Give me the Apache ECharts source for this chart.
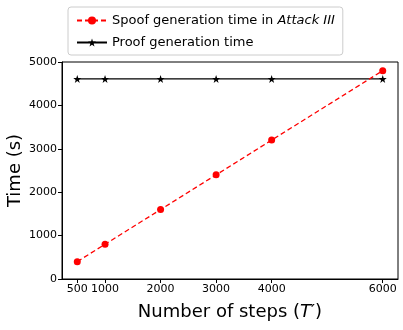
<!DOCTYPE html>
<html>
<head>
<meta charset="utf-8">
<script src="https://cdn.jsdelivr.net/npm/echarts@6/dist/echarts.min.js"></script>
<style>
html,body{margin:0;padding:0;background:#fff;}
#main{width:403px;height:330px;}
</style>
</head>
<body>
<div id="main"></div>
<script>
const steps = [500, 1000, 2000, 3000, 4000, 6000];
const spoofTime = [400, 800, 1600, 2400, 3200, 4800];
const proofTime = [4610, 4610, 4610, 4610, 4610, 4610];
const yTicks = [0, 1000, 2000, 3000, 4000, 5000];

const chart = echarts.init(document.getElementById('main'));
const font = 'DejaVu Sans';

const option = {
    animation: false,
    textStyle: {fontFamily: font},
    grid: {
        left: 62, right: 5, top: 62, bottom: 51,
        outerBoundsMode: 'none',
        containLabel: false,
        show: true, borderColor: '#000', borderWidth: 1
    },
    legend: {
        left: 68, top: 7,
        orient: 'vertical',
        itemGap: 9,
        itemWidth: 30, itemHeight: 10,
        padding: [7, 8, 6, 8],
        borderColor: '#ccc', borderWidth: 1, borderRadius: 3,
        textStyle: {
            fontSize: 13, color: '#000', fontFamily: font,
            rich: {i: {fontStyle: 'italic', fontSize: 13, fontFamily: font, color: '#000'}}
        },
        formatter: name => name === 'spoof'
            ? 'Spoof generation time in {i|Attack III}'
            : 'Proof generation time',
        data: ['spoof', 'proof']
    },
    xAxis: {
        type: 'value',
        min: 225, max: 6275,
        splitLine: {show: false},
        axisLine: {show: true, onZero: false, lineStyle: {color: '#000'}},
        axisTick: {show: true, customValues: steps, length: 4, lineStyle: {color: '#000'}},
        axisLabel: {customValues: steps, fontSize: 11, color: '#000', margin: 5, fontFamily: font,
            formatter: v => String(v)},
        name: '{n|Number of steps (}{i|T}{n|′)}',
        nameLocation: 'middle',
        nameGap: 24,
        nameMoveOverlap: false,
        nameTextStyle: {
            rich: {
                n: {fontSize: 18, color: '#000', fontFamily: font},
                i: {fontSize: 18, color: '#000', fontStyle: 'italic', fontFamily: font}
            }
        }
    },
    yAxis: {
        type: 'value',
        min: 0, max: 5000, interval: 1000,
        splitLine: {show: false},
        axisLine: {show: true, lineStyle: {color: '#000'}},
        axisTick: {show: true, length: 4, lineStyle: {color: '#000'}},
        axisLabel: {fontSize: 11, color: '#000', margin: 5, fontFamily: font,
            formatter: v => String(v)},
        name: 'Time (s)',
        nameLocation: 'middle',
        nameGap: 38,
        nameMoveOverlap: false,
        nameTextStyle: {fontSize: 18, color: '#000', fontFamily: font}
    },
    series: [
        {
            name: 'spoof',
            type: 'line',
            data: steps.map((s, i) => [s, spoofTime[i]]),
            symbol: 'circle', symbolSize: 7,
            itemStyle: {color: '#ff0000'},
            lineStyle: {color: '#ff0000', width: 1.3, type: [5, 3]},
            z: 3
        },
        {
            name: 'proof',
            type: 'line',
            data: steps.map((s, i) => [s, proofTime[i]]),
            symbol: 'path://M0,-10L2.35,-3.24L9.51,-3.09L3.8,1.24L5.88,8.09L0,4L-5.88,8.09L-3.8,1.24L-9.51,-3.09L-2.35,-3.24Z',
            symbolSize: 8,
            itemStyle: {color: '#000'},
            lineStyle: {color: '#000', width: 1.3},
            z: 2
        }
    ]
};
chart.setOption(option);
</script>
</body>
</html>
